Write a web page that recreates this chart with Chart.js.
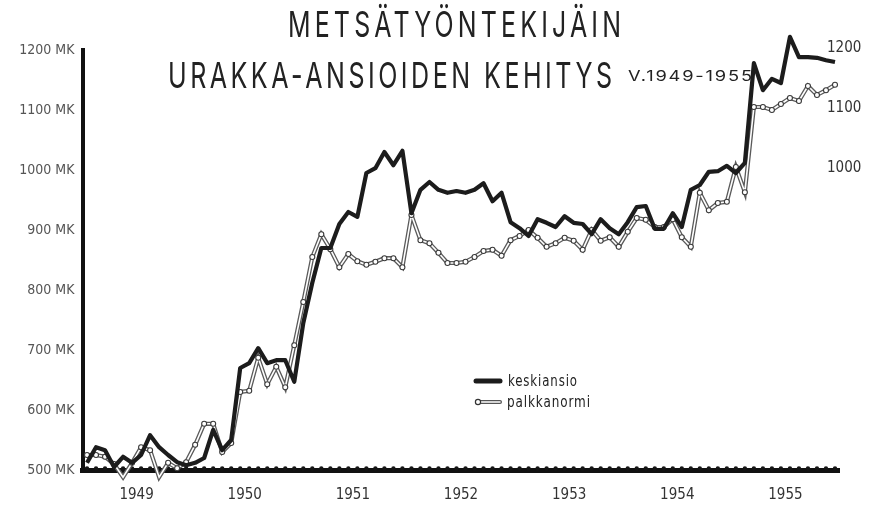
<!DOCTYPE html>
<html>
<head>
<meta charset="utf-8">
<script src="https://cdn.jsdelivr.net/npm/chart.js@4.4.1/dist/chart.umd.min.js"></script>
<style>
  html, body { margin: 0; padding: 0; background: #fff; }
  #wrap { width: 874px; height: 507px; }
</style>
</head>
<body>
<div id="wrap"><canvas id="myChart" width="874" height="507"></canvas></div>
<script>
// kuukausittaiset arvot 1949-1955 (mk / päivä)
const years = ['1949', '1950', '1951', '1952', '1953', '1954', '1955'];

const keskiansio = [
  512, 538, 533, 505, 522, 512, 525, 558, 538, 525, 513, 508,
  512, 520, 567, 533, 550, 670, 678, 703, 678, 683, 683, 647,
  745, 812, 870, 870, 910, 930, 922, 995, 1003, 1030, 1008, 1032,
  928, 967, 980, 967, 962, 965, 962, 967, 978, 948, 962, 913,
  903, 890, 918, 912, 905, 923, 912, 910, 893, 918, 903, 893,
  913, 938, 940, 902, 902, 928, 905, 967, 975, 997, 998, 1007,
  995, 1012, 1178, 1133, 1152, 1145, 1222, 1188, 1188, 1187, 1183, 1180
];

const palkkanormi = [
  525, 525, 522, 510, 488, 512, 538, 533, 488, 512, 503, 513,
  542, 577, 577, 530, 545, 630, 632, 687, 643, 672, 638, 708,
  780, 855, 893, 868, 838, 860, 848, 842, 847, 853, 853, 838,
  925, 883, 878, 862, 845, 845, 847, 855, 865, 867, 857, 883,
  890, 900, 887, 872, 878, 887, 882, 867, 900, 882, 888, 872,
  897, 920, 917, 905, 905, 918, 888, 872, 962, 933, 945, 947,
  1005, 963, 1105, 1105, 1100, 1110, 1120, 1115, 1140, 1125, 1133, 1142
];

const leftTicks = [500, 600, 700, 800, 900, 1000, 1100, 1200];
const rightTicks = [1000, 1100, 1200];

const months = [];
years.forEach(y => {
  for (let m = 1; m <= 12; m++) months.push(y + '/' + m);
});

const narrow = '"DejaVu Sans Condensed", "Liberation Sans Narrow", "DejaVu Sans", sans-serif';
const thin = 'Inter, "Open Sans", "DejaVu Sans", sans-serif';

// teksti venytetään annettuun leveyteen
function fitText(ctx, text, x, y, w, font, spacing) {
  ctx.font = font;
  ctx.letterSpacing = (spacing || 0) + 'px';
  const m = ctx.measureText(text).width - (spacing || 0);
  ctx.save();
  ctx.translate(x, y);
  ctx.scale(w / m, 1);
  ctx.fillText(text, 0, 0);
  ctx.restore();
  ctx.letterSpacing = '0px';
}

const decor = {
  id: 'decor',
  beforeDatasetsDraw(chart) {
    const ctx = chart.ctx;
    const xs = chart.scales.x;
    const bottom = chart.chartArea.bottom;
    ctx.save();
    ctx.fillStyle = '#151515';
    for (let i = 0; i < months.length; i++) {
      const px = xs.getPixelForValue(i);
      ctx.beginPath();
      ctx.arc(px, bottom - 1.5, 2.2, 0, Math.PI * 2);
      ctx.fill();
    }
    ctx.restore();
  },
  afterDraw(chart) {
    const ctx = chart.ctx;
    const ys = chart.scales.y;
    ctx.save();
    ctx.fillStyle = '#222';
    ctx.textBaseline = 'alphabetic';
    fitText(ctx, 'METSÄTYÖNTEKIJÄIN', 288, 37, 333, '400 36px ' + thin, 6);
    fitText(ctx, 'URAKKA-ANSIOIDEN KEHITYS', 168, 88, 444, '400 36px ' + thin, 5);
    fitText(ctx, 'V.1949-1955', 628, 81, 124, '400 15px ' + thin, 1.5);

    // oikean reunan asteikko
    ctx.fillStyle = '#333';
    ctx.font = '15px ' + narrow;
    ctx.textAlign = 'left';
    ctx.textBaseline = 'middle';
    rightTicks.forEach(v => {
      ctx.fillText(String(v), 827, ys.getPixelForValue(v) - 2);
    });
    ctx.textBaseline = 'alphabetic';

    // selite
    ctx.strokeStyle = '#1c1c1c';
    ctx.lineWidth = 5;
    ctx.lineCap = 'round';
    ctx.beginPath();
    ctx.moveTo(476, 381);
    ctx.lineTo(500, 381);
    ctx.stroke();

    ctx.strokeStyle = '#555';
    ctx.lineWidth = 4;
    ctx.beginPath();
    ctx.moveTo(480, 402);
    ctx.lineTo(500, 402);
    ctx.stroke();
    ctx.strokeStyle = '#fff';
    ctx.lineWidth = 1.5;
    ctx.beginPath();
    ctx.moveTo(480, 402);
    ctx.lineTo(500, 402);
    ctx.stroke();
    ctx.fillStyle = '#fff';
    ctx.strokeStyle = '#333';
    ctx.lineWidth = 1.2;
    ctx.beginPath();
    ctx.arc(478, 402, 2.6, 0, Math.PI * 2);
    ctx.fill();
    ctx.stroke();

    ctx.fillStyle = '#222';
    fitText(ctx, 'keskiansio', 508, 386, 69, '15px ' + narrow, 1);
    fitText(ctx, 'palkkanormi', 507, 407, 83, '15px ' + narrow, 1);
    ctx.restore();
  }
};

new Chart(document.getElementById('myChart'), {
  type: 'line',
  data: {
    labels: months,
    datasets: [
      {
        label: 'keskiansio',
        data: keskiansio,
        borderColor: '#1c1c1c',
        borderWidth: 4.2,
        borderJoinStyle: 'round',
        pointRadius: 0,
        tension: 0,
        clip: false
      },
      {
        label: 'palkkanormi',
        data: palkkanormi,
        borderColor: '#ffffff',
        borderWidth: 1.6,
        pointRadius: 2.5,
        pointBackgroundColor: '#fff',
        pointBorderColor: '#3a3a3a',
        pointBorderWidth: 1.1,
        tension: 0,
        clip: false
      },
      {
        label: 'palkkanormi-reuna',
        data: palkkanormi,
        borderColor: '#5a5a5a',
        borderWidth: 4.2,
        pointRadius: 0,
        tension: 0,
        clip: false
      }
    ]
  },
  options: {
    responsive: false,
    animation: false,
    devicePixelRatio: 1,
    layout: { padding: { top: 50, left: 0, right: 34.5, bottom: 0 } },
    plugins: {
      legend: { display: false },
      tooltip: { enabled: false },
      title: { display: false }
    },
    scales: {
      x: {
        type: 'category',
        offset: true,
        grid: { display: false, drawOnChartArea: false },
        border: { color: '#111', width: 5 },
        ticks: {
          autoSkip: false,
          maxRotation: 0,
          minRotation: 0,
          padding: 8,
          labelOffset: -4.5,
          color: '#333',
          font: { family: narrow, size: 15 },
          callback: (v, i) => (i % 12 === 6 ? years[Math.floor(i / 12)] : '')
        },
        afterFit: s => { s.height = 37; }
      },
      y: {
        position: 'left',
        min: 500,
        max: 1200,
        grid: { display: false },
        border: { color: '#111', width: 4 },
        afterBuildTicks: s => { s.ticks = leftTicks.map(v => ({ value: v })); },
        ticks: {
          padding: 0,
          color: '#555',
          font: { family: narrow, size: 14 },
          callback: v => v + ' MK'
        },
        afterFit: s => { s.width = 82.5; }
      }
    }
  },
  plugins: [decor]
});
</script>
</body>
</html>
